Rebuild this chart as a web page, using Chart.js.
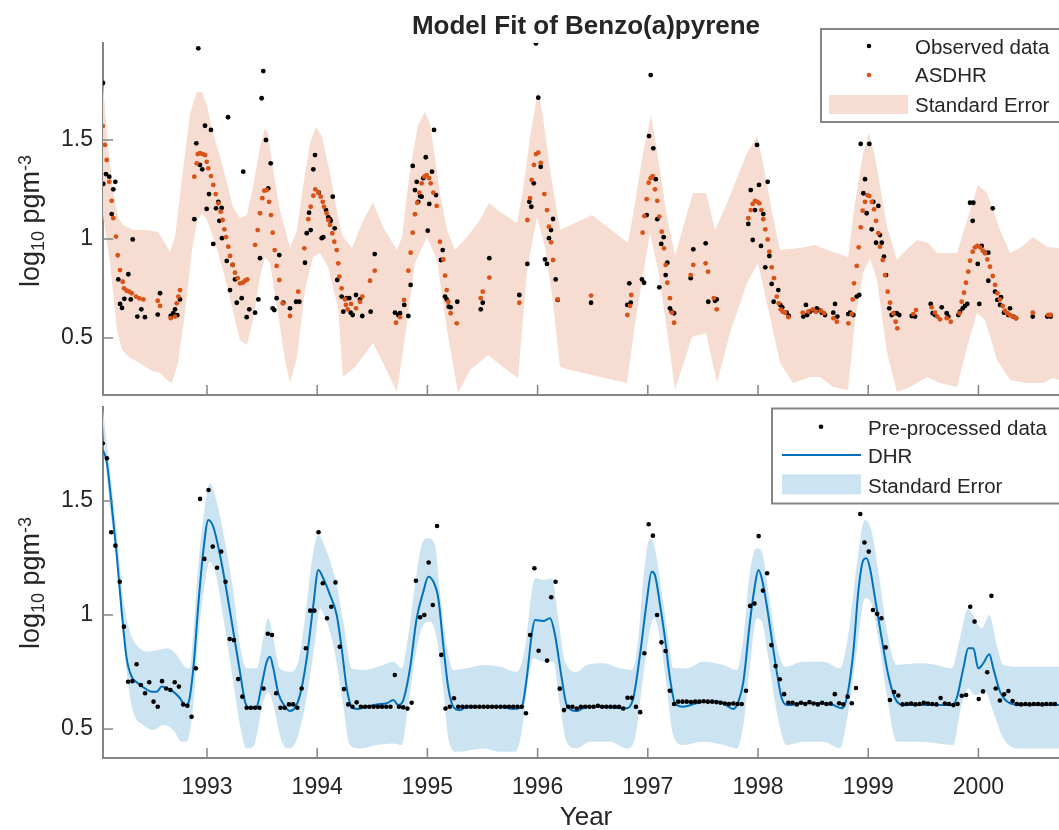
<!DOCTYPE html>
<html><head><meta charset="utf-8">
<script src="https://cdn.jsdelivr.net/npm/chart.js@4"></script>
<style>
html,body{margin:0;padding:0;background:#fff;overflow:hidden;width:1059px;height:830px;}
#topC{position:absolute;left:0;top:0;}
#botC{position:absolute;left:0;top:400px;}
</style></head><body>
<canvas id="topC" width="1069" height="400"></canvas>
<canvas id="botC" width="1069" height="430"></canvas>
<script>
// ---------------- DATA ----------------
const titleText = 'Model Fit of Benzo(a)pyrene';
const xTicks = [1993,1994,1995,1996,1997,1998,1999,2000];
const yTicks = [0.5,1,1.5];

// Top panel: observed data [year, log10 pgm-3]
const observed = [
[1992.056,1.788],[1992.083,1.328],[1992.059,1.278],[1992.113,1.315],[1992.168,1.289],[1992.150,1.251],[1992.135,1.126],[1992.195,0.796],[1992.211,0.672],[1992.229,0.652],[1992.250,0.698],[1992.286,0.822],[1992.308,0.695],[1992.326,0.998],[1992.368,0.608],[1992.404,0.645],[1992.437,0.605],[1992.553,0.618],[1992.574,0.726],[1992.671,0.611],[1992.694,0.625],[1992.710,0.645],[1992.730,0.615],[1992.755,0.695],
[1992.885,1.100],[1992.903,1.483],[1992.921,1.963],[1992.936,1.374],[1992.957,1.352],[1992.982,1.572],[1992.997,1.152],[1993.018,1.227],[1993.036,1.551],[1993.057,0.975],[1993.082,1.155],[1993.103,1.188],[1993.112,1.092],[1993.133,1.157],[1993.136,1.004],[1993.179,0.889],[1993.191,1.615],[1993.209,0.742],[1993.233,0.869],[1993.254,0.796],[1993.270,0.678],[1993.315,0.701],[1993.329,1.340],[1993.360,0.605],[1993.384,0.645],[1993.436,0.628],[1993.466,0.695],[1993.481,0.903],[1993.496,1.711],[1993.511,1.848],[1993.535,1.500],[1993.556,1.256],[1993.578,1.382],[1993.596,0.650],[1993.611,0.641],[1993.632,0.701],[1993.656,0.919],[1993.692,0.678],[1993.753,0.650],[1993.808,0.683],[1993.838,0.683],
[1993.889,0.880],[1993.905,1.029],[1993.926,1.133],[1993.941,1.045],[1993.965,1.352],[1993.980,1.424],[1994.014,1.234],[1994.041,1.004],[1994.055,1.009],[1994.080,1.146],[1994.101,1.110],[1994.116,1.100],[1994.123,1.092],[1994.141,1.214],[1994.159,1.054],[1994.182,0.793],[1994.222,0.709],[1994.237,0.633],[1994.268,0.701],[1994.291,0.701],[1994.304,0.628],[1994.322,0.616],[1994.352,0.717],[1994.388,0.695],[1994.409,0.611],[1994.485,0.633],[1994.522,0.924],
[1994.706,0.628],[1994.736,0.616],[1994.751,0.625],[1994.790,0.667],[1994.827,0.611],[1994.848,0.768],[1994.867,1.369],[1994.887,1.247],[1994.903,1.289],[1994.917,1.188],[1994.933,1.217],[1994.948,1.214],[1994.963,1.307],[1994.985,1.413],[1995.003,1.042],[1995.017,1.177],[1995.042,1.340],[1995.060,1.551],[1995.078,1.222],[1995.123,0.894],[1995.139,0.944],[1995.160,0.709],[1995.175,0.695],[1995.193,0.658],[1995.211,0.655],[1995.271,0.683],[1995.484,0.645],[1995.502,0.678],[1995.562,0.903],
[1995.834,0.717],[1995.907,0.874],[1995.925,1.188],[1995.943,1.163],[1995.965,1.281],[1995.985,1.988],[1996.006,1.714],[1996.028,1.365],[1996.067,0.897],[1996.085,0.874],[1996.103,1.004],[1996.122,1.045],[1996.140,1.101],[1996.164,0.796],[1996.182,0.692],[1996.485,0.678],
[1996.814,0.667],[1996.832,0.776],[1996.845,0.678],[1996.947,0.796],[1996.966,0.779],[1996.990,1.121],[1997.011,1.520],[1997.026,1.828],[1997.050,1.458],[1997.072,1.302],[1997.086,1.100],[1997.104,0.756],[1997.122,0.975],[1997.144,1.009],[1997.162,0.818],[1997.177,0.880],[1997.201,0.650],[1997.217,0.633],[1997.238,0.625],[1997.389,0.802],[1997.413,0.948],[1997.525,0.978],[1997.549,0.683],[1997.610,0.688],[1997.625,0.695],
[1997.912,1.076],[1997.934,1.247],[1997.952,0.995],[1997.973,1.146],[1997.991,1.475],[1998.009,1.273],[1998.027,0.965],[1998.048,1.126],[1998.066,0.857],[1998.088,1.289],[1998.103,0.914],[1998.124,0.773],[1998.142,0.683],[1998.184,0.742],[1998.202,0.667],[1998.220,0.655],[1998.260,0.628],[1998.279,0.611],[1998.411,0.608],[1998.435,0.667],[1998.447,0.616],[1998.472,0.633],[1998.502,0.641],[1998.533,0.650],[1998.556,0.641],[1998.578,0.628],[1998.608,0.616],[1998.683,0.628],[1998.699,0.672],[1998.720,0.608],[1998.819,0.621],[1998.835,0.628],[1998.865,0.616],[1998.896,0.709],[1998.919,0.717],
[1998.932,1.480],[1999.010,1.480],[1998.971,1.302],[1998.956,1.231],[1998.986,1.130],[1999.032,1.049],[1999.046,1.188],[1999.071,0.981],[1999.092,1.167],[1999.107,1.020],[1999.123,0.981],[1999.143,0.911],[1999.162,0.818],[1999.191,0.650],[1999.213,0.616],[1999.234,0.625],[1999.258,0.625],[1999.282,0.616],[1999.395,0.611],[1999.425,0.608],[1999.567,0.672],[1999.585,0.625],[1999.606,0.616],[1999.667,0.655],[1999.712,0.625],[1999.727,0.608],[1999.818,0.616],[1999.833,0.633],[1999.858,0.650],[1999.878,0.662],[1999.899,0.672],
[1999.924,1.183],[1999.954,1.183],[1999.948,1.092],[2000.008,0.672],[1999.994,0.874],[2000.030,0.965],[2000.060,0.931],[2000.090,0.931],[2000.130,1.155],[2000.090,0.789],[2000.151,0.734],[2000.172,0.692],[2000.196,0.667],[2000.205,0.706],[2000.232,0.628],[2000.271,0.616],[2000.287,0.650],[2000.317,0.608],[2000.341,0.600],[2000.493,0.608],[2000.625,0.608],[2000.656,0.608]
];

// Top panel: ASDHR fit
const asdhr = [
[1992.054,1.571],[1992.074,1.475],[1992.090,1.399],[1992.113,1.289],[1992.135,1.193],[1992.150,1.105],[1992.174,1.012],[1992.190,0.918],[1992.211,0.843],[1992.235,0.784],[1992.247,0.751],[1992.271,0.739],[1992.295,0.734],[1992.317,0.726],[1992.356,0.709],[1992.386,0.700],[1992.422,0.695],[1992.553,0.688],[1992.574,0.662],[1992.671,0.600],[1992.710,0.608],[1992.725,0.675],[1992.740,0.709],[1992.755,0.742],
[1992.885,1.315],[1992.907,1.382],[1992.916,1.429],[1992.936,1.433],[1992.961,1.429],[1992.982,1.424],[1992.997,1.390],[1993.012,1.357],[1993.036,1.318],[1993.057,1.273],[1993.079,1.227],[1993.103,1.180],[1993.124,1.138],[1993.142,1.096],[1993.157,1.049],[1993.172,1.009],[1993.193,0.961],[1993.209,0.914],[1993.233,0.869],[1993.254,0.830],[1993.279,0.802],[1993.299,0.776],[1993.324,0.779],[1993.345,0.789],[1993.366,0.796],
[1993.436,0.970],[1993.460,1.045],[1993.481,1.130],[1993.502,1.206],[1993.520,1.244],[1993.542,1.247],[1993.563,1.188],[1993.581,1.121],[1993.596,1.032],[1993.614,0.944],[1993.632,0.864],[1993.656,0.793],[1993.687,0.675],[1993.753,0.611],[1993.828,0.734],
[1993.883,0.953],[1993.919,1.100],[1993.941,1.163],[1993.965,1.219],[1993.983,1.251],[1994.010,1.234],[1994.032,1.214],[1994.050,1.188],[1994.062,1.163],[1994.086,1.130],[1994.101,1.096],[1994.116,1.071],[1994.137,1.029],[1994.155,0.986],[1994.177,0.944],[1994.191,0.877],[1994.201,0.810],[1994.222,0.751],[1994.252,0.695],[1994.261,0.667],[1994.277,0.645],[1994.307,0.672],[1994.352,0.650],[1994.388,0.683],[1994.409,0.709],[1994.479,0.789],[1994.522,0.840],
[1994.715,0.577],[1994.751,0.605],[1994.788,0.692],[1994.827,0.840],[1994.848,0.931],[1994.867,1.032],[1994.887,1.125],[1994.908,1.183],[1994.927,1.234],[1994.948,1.281],[1994.972,1.315],[1994.994,1.323],[1995.015,1.307],[1995.030,1.281],[1995.054,1.234],[1995.084,1.167],[1995.114,0.986],[1995.144,0.897],[1995.160,0.815],[1995.175,0.742],[1995.190,0.683],[1995.211,0.625],[1995.266,0.574],[1995.484,0.701],[1995.502,0.734],[1995.562,0.805],
[1995.834,0.678],[1995.907,1.096],[1995.931,1.206],[1995.946,1.298],[1995.967,1.374],[1995.985,1.429],[1996.006,1.436],[1996.028,1.385],[1996.061,1.227],[1996.085,1.146],[1996.103,1.062],[1996.122,0.983],[1996.140,0.894],[1996.182,0.695],[1996.485,0.714],
[1996.814,0.616],[1996.838,0.662],[1996.850,0.717],[1996.953,1.032],[1996.968,1.116],[1996.990,1.201],[1997.008,1.284],[1997.026,1.307],[1997.044,1.318],[1997.065,1.251],[1997.086,1.193],[1997.104,1.113],[1997.126,1.037],[1997.147,0.953],[1997.162,0.869],[1997.177,0.779],[1997.201,0.701],[1997.220,0.628],[1997.238,0.577],[1997.389,0.818],[1997.413,0.869],[1997.525,0.877],[1997.546,0.835],[1997.600,0.701],[1997.625,0.645],
[1997.912,1.105],[1997.934,1.146],[1997.952,1.177],[1997.973,1.193],[1997.994,1.188],[1998.012,1.180],[1998.030,1.146],[1998.048,1.100],[1998.066,1.049],[1998.088,0.998],[1998.103,0.936],[1998.124,0.857],[1998.145,0.802],[1998.170,0.709],[1998.188,0.675],[1998.206,0.645],[1998.224,0.633],[1998.245,0.628],[1998.275,0.605],[1998.406,0.628],[1998.457,0.633],[1998.497,0.645],[1998.527,0.633],[1998.570,0.638],[1998.600,0.625],[1998.684,0.600],[1998.715,0.582],[1998.820,0.574],
[1998.850,0.621],[1998.859,0.695],[1998.871,0.776],[1998.896,0.864],[1998.914,0.958],[1998.932,1.059],[1998.950,1.143],[1998.971,1.188],[1998.992,1.222],[1999.010,1.217],[1999.032,1.188],[1999.053,1.150],[1999.071,1.092],[1999.092,1.029],[1999.107,0.961],[1999.132,0.894],[1999.153,0.818],[1999.177,0.734],[1999.198,0.678],[1999.228,0.625],[1999.249,0.582],[1999.264,0.549],[1999.409,0.621],[1999.434,0.641],[1999.576,0.655],[1999.606,0.628],[1999.627,0.608],[1999.652,0.594],[1999.712,0.600],[1999.749,0.582],
[1999.827,0.625],[1999.848,0.683],[1999.869,0.729],[1999.887,0.779],[1999.908,0.835],[1999.924,0.890],[1999.948,0.936],[1999.969,0.958],[1999.990,0.965],[2000.015,0.958],[2000.039,0.941],[2000.060,0.928],[2000.081,0.897],[2000.105,0.860],[2000.130,0.813],[2000.151,0.768],[2000.172,0.726],[2000.196,0.695],[2000.220,0.662],[2000.241,0.638],[2000.262,0.625],[2000.287,0.616],[2000.311,0.608],[2000.341,0.600],[2000.493,0.628],[2000.634,0.616],[2000.656,0.616]
];

// Top panel: standard error band (upper / lower edge)
const asdhrUpper = [
[1992.056,1.788],[1992.102,1.465],[1992.147,1.247],[1992.192,1.111],[1992.238,1.071],[1992.328,1.045],[1992.456,1.045],[1992.555,1.035],[1992.601,0.995],[1992.664,0.934],[1992.710,1.010],[1992.782,1.348],[1992.846,1.636],[1992.909,1.742],[1992.955,1.742],[1993.000,1.677],[1993.054,1.535],[1993.118,1.414],[1993.181,1.283],[1993.236,1.162],[1993.299,1.106],[1993.363,1.121],[1993.417,1.263],[1993.481,1.465],[1993.526,1.561],[1993.554,1.535],[1993.599,1.348],[1993.662,1.146],[1993.753,0.955],[1993.817,1.045],[1993.871,1.263],[1993.935,1.485],[1993.989,1.566],[1994.044,1.515],[1994.116,1.333],[1994.189,1.111],[1994.234,1.010],[1994.316,0.955],[1994.407,1.081],[1994.506,1.187],[1994.597,1.061],[1994.724,0.944],[1994.769,1.010],[1994.842,1.348],[1994.915,1.576],[1994.978,1.641],[1995.024,1.586],[1995.114,1.232],[1995.178,1.045],[1995.250,0.944],[1995.359,1.010],[1995.477,1.096],[1995.559,1.182],[1995.659,1.136],[1995.813,1.081],[1995.868,1.247],[1995.931,1.515],[1996.004,1.753],[1996.049,1.616],[1996.113,1.348],[1996.203,1.045],[1996.494,1.121],[1996.820,0.980],[1996.884,1.182],[1996.956,1.434],[1997.029,1.626],[1997.083,1.449],[1997.174,1.111],[1997.247,0.919],[1997.410,1.232],[1997.528,1.232],[1997.610,1.045],[1997.719,1.182],[1997.900,1.434],[1997.991,1.520],[1998.045,1.384],[1998.136,1.111],[1998.200,0.944],[1998.381,0.955],[1998.517,0.970],[1998.681,0.934],[1998.817,0.909],[1998.880,1.182],[1998.953,1.434],[1999.007,1.535],[1999.062,1.414],[1999.171,1.061],[1999.261,0.894],[1999.316,0.929],[1999.443,0.995],[1999.543,0.980],[1999.624,0.929],[1999.806,0.929],[1999.897,1.096],[1999.996,1.273],[2000.078,1.232],[2000.196,1.045],[2000.287,0.929],[2000.378,0.955],[2000.495,1.010],[2000.622,0.960],[2000.731,0.955]
];
const asdhrLower = [
[1992.056,1.121],[1992.120,0.879],[1992.183,0.540],[1992.229,0.439],[1992.301,0.399],[1992.392,0.374],[1992.483,0.338],[1992.574,0.323],[1992.637,0.288],[1992.682,0.273],[1992.737,0.374],[1992.800,0.626],[1992.864,0.944],[1992.909,1.086],[1992.955,1.131],[1993.000,1.096],[1993.073,0.980],[1993.145,0.843],[1993.227,0.657],[1993.299,0.490],[1993.363,0.465],[1993.417,0.591],[1993.481,0.808],[1993.526,0.909],[1993.572,0.879],[1993.635,0.657],[1993.708,0.389],[1993.753,0.273],[1993.817,0.404],[1993.889,0.742],[1993.962,0.909],[1994.025,0.929],[1994.098,0.859],[1994.189,0.657],[1994.234,0.303],[1994.343,0.354],[1994.506,0.475],[1994.615,0.354],[1994.724,0.227],[1994.815,0.576],[1994.887,0.879],[1994.996,1.010],[1995.087,0.894],[1995.178,0.540],[1995.278,0.222],[1995.387,0.338],[1995.550,0.414],[1995.686,0.354],[1995.822,0.298],[1995.904,0.843],[1995.995,1.111],[1996.067,0.960],[1996.140,0.677],[1996.203,0.354],[1996.294,0.338],[1996.811,0.273],[1996.884,0.576],[1997.020,1.030],[1997.093,0.843],[1997.174,0.540],[1997.247,0.237],[1997.401,0.505],[1997.528,0.525],[1997.628,0.273],[1997.746,0.525],[1997.900,0.778],[1998.000,0.879],[1998.109,0.606],[1998.200,0.374],[1998.318,0.273],[1998.472,0.303],[1998.563,0.303],[1998.681,0.253],[1998.817,0.237],[1998.880,0.591],[1998.953,0.828],[1999.016,0.904],[1999.080,0.793],[1999.171,0.424],[1999.261,0.227],[1999.379,0.253],[1999.534,0.303],[1999.652,0.273],[1999.806,0.253],[1999.897,0.455],[1999.987,0.626],[2000.060,0.591],[2000.169,0.389],[2000.287,0.288],[2000.441,0.273],[2000.586,0.273],[2000.677,0.298],[2000.731,0.288]
];

// Bottom panel: pre-processed data (fortnightly)
const preYear = [
1992.054,1992.092,1992.131,1992.169,1992.208,1992.246,1992.284,1992.323,1992.361,1992.400,1992.438,1992.476,1992.515,1992.553,1992.592,1992.630,1992.668,1992.707,1992.745,1992.784,1992.822,1992.860,1992.899,1992.937,1992.976,1993.014,
1993.052,1993.091,1993.129,1993.168,1993.206,1993.244,1993.283,1993.321,1993.360,1993.398,1993.436,1993.475,1993.513,1993.552,1993.590,1993.628,1993.667,1993.705,1993.744,1993.782,1993.820,1993.859,1993.897,1993.936,1993.974,1994.012,
1994.051,1994.089,1994.128,1994.166,1994.204,1994.243,1994.281,1994.320,1994.358,1994.396,1994.435,1994.473,1994.512,1994.550,1994.588,1994.627,1994.665,1994.704,1994.742,1994.780,1994.819,1994.857,1994.896,1994.934,1994.972,1995.011,
1995.049,1995.088,1995.126,1995.164,1995.203,1995.241,1995.280,1995.318,1995.356,1995.395,1995.433,1995.472,1995.510,1995.548,1995.587,1995.625,1995.664,1995.702,1995.740,1995.779,1995.817,1995.856,1995.894,1995.932,1995.971,1996.009,
1996.048,1996.086,1996.124,1996.163,1996.201,1996.240,1996.278,1996.316,1996.355,1996.393,1996.432,1996.470,1996.508,1996.547,1996.585,1996.624,1996.662,1996.700,1996.739,1996.777,1996.816,1996.854,1996.892,1996.931,1996.969,1997.008,
1997.046,1997.084,1997.123,1997.161,1997.200,1997.238,1997.276,1997.315,1997.353,1997.392,1997.430,1997.468,1997.507,1997.545,1997.584,1997.622,1997.660,1997.699,1997.737,1997.776,1997.814,1997.852,1997.891,1997.929,1997.968,1998.006,
1998.045,1998.083,1998.121,1998.160,1998.198,1998.237,1998.275,1998.313,1998.352,1998.390,1998.429,1998.467,1998.505,1998.544,1998.582,1998.621,1998.659,1998.697,1998.736,1998.774,1998.813,1998.851,1998.889,1998.928,1998.966,1999.005,
1999.043,1999.081,1999.120,1999.158,1999.197,1999.235,1999.273,1999.312,1999.350,1999.389,1999.427,1999.465,1999.504,1999.542,1999.581,1999.619,1999.657,1999.696,1999.734,1999.773,1999.811,1999.849,1999.888,1999.926,1999.965,2000.003,
2000.042,2000.080,2000.118,2000.157,2000.195,2000.234,2000.272,2000.310,2000.349,2000.387,2000.426,2000.464,2000.502,2000.541,2000.579,2000.617,2000.656,2000.694
];
const preVal = [
1.753,1.687,1.363,1.304,1.146,0.949,0.707,0.710,0.784,0.693,0.657,0.705,0.620,0.598,0.710,0.678,0.671,0.705,0.686,0.608,0.602,0.554,0.766,1.509,1.246,1.548,
1.300,1.207,1.278,1.146,0.895,0.890,0.719,0.642,0.593,0.593,0.593,0.593,0.678,0.918,0.912,0.657,0.593,0.593,0.608,0.608,0.593,0.678,0.854,1.019,1.019,1.363,
1.139,0.986,1.036,1.143,0.861,0.675,0.608,0.598,0.617,0.598,0.598,0.598,0.598,0.598,0.598,0.598,0.598,0.737,0.598,0.595,0.590,0.615,1.150,0.990,1.000,1.230,
1.044,1.390,0.825,0.590,0.598,0.635,0.598,0.598,0.598,0.598,0.598,0.598,0.598,0.598,0.598,0.598,0.598,0.598,0.598,0.598,0.598,0.598,0.569,0.912,1.205,0.843,
null,0.800,1.078,1.146,0.677,0.583,0.598,0.598,0.590,0.598,0.598,0.598,0.598,0.602,0.598,0.598,0.598,0.598,0.598,0.590,0.637,0.637,0.598,0.574,0.832,1.398,
1.348,1.000,0.880,0.842,0.668,0.610,0.620,0.620,0.620,0.618,0.620,0.620,0.622,0.620,0.620,0.618,0.615,0.612,0.610,0.612,0.610,0.610,0.668,1.040,1.050,1.346,
1.107,1.183,0.868,0.776,0.718,0.653,0.615,0.615,0.608,0.615,0.610,0.618,0.612,0.608,0.615,0.610,0.612,0.653,0.613,0.608,0.642,0.613,0.680,1.443,1.318,1.278,
1.022,1.005,0.986,0.858,0.627,0.662,0.647,0.608,0.610,0.612,0.608,0.610,0.615,0.612,0.610,0.608,0.636,0.612,0.610,0.605,0.610,0.646,0.649,1.036,0.971,0.632,
0.665,0.749,1.084,0.678,0.625,0.652,0.667,0.623,0.610,0.608,0.610,0.608,0.610,0.610,0.608,0.610,0.610,0.610
];

// Bottom panel: DHR fit and its standard error band
const dhr = [
[1992.056,1.724],[1992.090,1.672],[1992.135,1.482],[1992.181,1.263],[1992.226,1.014],[1992.271,0.810],[1992.317,0.729],[1992.377,0.700],[1992.437,0.678],[1992.498,0.664],[1992.544,0.664],[1992.589,0.686],[1992.634,0.678],[1992.694,0.664],[1992.755,0.635],[1992.800,0.605],[1992.830,0.613],[1992.876,0.766],[1992.921,1.044],[1992.966,1.278],[1993.012,1.417],[1993.057,1.387],[1993.118,1.263],[1993.179,1.102],[1993.239,0.927],[1993.299,0.751],[1993.345,0.620],[1993.390,0.591],[1993.451,0.598],[1993.496,0.693],[1993.542,0.795],[1993.572,0.817],[1993.602,0.766],[1993.647,0.657],[1993.708,0.598],[1993.753,0.579],[1993.799,0.593],[1993.844,0.649],[1993.905,0.810],[1993.965,1.044],[1994.010,1.197],[1994.055,1.161],[1994.116,1.088],[1994.177,1.000],[1994.222,0.854],[1994.268,0.679],[1994.313,0.598],[1994.373,0.588],[1994.449,0.598],[1994.540,0.608],[1994.631,0.613],[1994.691,0.627],[1994.736,0.605],[1994.781,0.627],[1994.842,0.766],[1994.903,0.986],[1994.963,1.102],[1995.008,1.168],[1995.054,1.146],[1995.099,1.073],[1995.144,0.868],[1995.190,0.679],[1995.235,0.598],[1995.296,0.583],[1995.357,0.598],[1995.659,0.598],[1995.779,0.588],[1995.856,0.598],[1995.901,0.722],[1995.946,0.912],[1995.976,0.978],[1996.052,0.974],[1996.113,0.986],[1996.158,0.912],[1996.219,0.722],[1996.264,0.605],[1996.355,0.579],[1996.446,0.598],[1996.596,0.598],[1996.748,0.591],[1996.808,0.591],[1996.868,0.635],[1996.929,0.825],[1996.990,1.058],[1997.035,1.190],[1997.065,1.175],[1997.111,1.044],[1997.156,0.898],[1997.201,0.722],[1997.247,0.613],[1997.322,0.598],[1997.504,0.620],[1997.655,0.620],[1997.731,0.598],[1997.776,0.588],[1997.822,0.620],[1997.867,0.707],[1997.927,0.971],[1997.973,1.132],[1998.003,1.197],[1998.034,1.161],[1998.079,1.044],[1998.124,0.898],[1998.170,0.751],[1998.215,0.635],[1998.275,0.605],[1998.411,0.613],[1998.563,0.613],[1998.683,0.605],[1998.759,0.591],[1998.805,0.635],[1998.865,0.839],[1998.910,1.102],[1998.956,1.241],[1998.986,1.249],[1999.016,1.205],[1999.062,1.073],[1999.122,0.898],[1999.182,0.737],[1999.243,0.635],[1999.319,0.605],[1999.470,0.605],[1999.622,0.605],[1999.758,0.605],[1999.803,0.635],[1999.863,0.766],[1999.908,0.854],[1999.954,0.854],[1999.999,0.766],[2000.044,0.788],[2000.099,0.828],[2000.135,0.766],[2000.196,0.664],[2000.287,0.613],[2000.407,0.605],[2000.731,0.605]
];
const dhrUpper = [
[1992.056,1.899],[1992.120,1.629],[1992.181,1.365],[1992.240,1.073],[1992.301,0.927],[1992.362,0.868],[1992.453,0.839],[1992.558,0.846],[1992.634,0.854],[1992.725,0.825],[1992.800,0.773],[1992.846,0.766],[1992.876,0.927],[1992.921,1.219],[1992.982,1.482],[1993.027,1.578],[1993.088,1.497],[1993.163,1.321],[1993.239,1.102],[1993.299,0.868],[1993.360,0.766],[1993.451,0.766],[1993.511,0.898],[1993.556,0.986],[1993.602,0.898],[1993.662,0.766],[1993.753,0.751],[1993.828,0.795],[1993.889,0.986],[1993.965,1.278],[1994.010,1.351],[1994.086,1.278],[1994.177,1.132],[1994.237,0.971],[1994.313,0.766],[1994.418,0.759],[1994.600,0.781],[1994.691,0.795],[1994.767,0.766],[1994.827,0.912],[1994.887,1.132],[1994.948,1.307],[1995.008,1.336],[1995.069,1.307],[1995.114,1.102],[1995.175,0.868],[1995.235,0.759],[1995.357,0.766],[1995.507,0.781],[1995.659,0.773],[1995.810,0.751],[1995.886,0.854],[1995.946,1.102],[1995.976,1.161],[1996.052,1.154],[1996.128,1.161],[1996.188,0.986],[1996.249,0.795],[1996.355,0.751],[1996.446,0.781],[1996.596,0.788],[1996.748,0.766],[1996.854,0.759],[1996.914,0.898],[1996.959,1.161],[1997.020,1.336],[1997.065,1.293],[1997.126,1.102],[1997.186,0.898],[1997.232,0.766],[1997.353,0.766],[1997.504,0.795],[1997.686,0.781],[1997.807,0.759],[1997.867,0.898],[1997.927,1.190],[1997.988,1.293],[1998.034,1.278],[1998.094,1.102],[1998.170,0.868],[1998.245,0.773],[1998.411,0.795],[1998.593,0.795],[1998.744,0.766],[1998.819,0.912],[1998.896,1.219],[1998.971,1.417],[1999.032,1.365],[1999.092,1.190],[1999.182,0.898],[1999.259,0.781],[1999.470,0.788],[1999.622,0.781],[1999.758,0.766],[1999.833,0.898],[1999.908,1.029],[1999.969,0.986],[2000.030,0.942],[2000.099,1.000],[2000.166,0.868],[2000.226,0.781],[2000.378,0.773],[2000.731,0.773]
];
const dhrLower = [
[1992.056,1.833],[1992.104,1.541],[1992.165,1.293],[1992.226,1.029],[1992.271,0.751],[1992.331,0.576],[1992.422,0.518],[1992.513,0.496],[1992.603,0.518],[1992.694,0.496],[1992.770,0.444],[1992.816,0.444],[1992.876,0.605],[1992.921,0.898],[1992.982,1.146],[1993.027,1.234],[1993.088,1.161],[1993.148,0.986],[1993.224,0.751],[1993.299,0.518],[1993.360,0.415],[1993.420,0.422],[1993.511,0.620],[1993.556,0.664],[1993.602,0.605],[1993.678,0.444],[1993.753,0.415],[1993.828,0.474],[1993.919,0.679],[1993.980,0.883],[1994.025,1.029],[1994.086,0.971],[1994.146,0.868],[1994.222,0.649],[1994.298,0.430],[1994.388,0.415],[1994.540,0.430],[1994.691,0.437],[1994.767,0.430],[1994.827,0.605],[1994.887,0.810],[1994.963,0.956],[1995.024,0.971],[1995.084,0.898],[1995.144,0.679],[1995.190,0.459],[1995.266,0.400],[1995.507,0.415],[1995.659,0.400],[1995.795,0.400],[1995.856,0.488],[1995.916,0.722],[1995.961,0.810],[1996.052,0.795],[1996.142,0.795],[1996.203,0.605],[1996.264,0.444],[1996.355,0.415],[1996.475,0.444],[1996.657,0.444],[1996.808,0.415],[1996.884,0.459],[1996.945,0.679],[1997.005,0.898],[1997.056,0.986],[1997.111,0.898],[1997.172,0.679],[1997.231,0.474],[1997.322,0.430],[1997.504,0.444],[1997.686,0.430],[1997.807,0.415],[1997.867,0.518],[1997.927,0.781],[1997.988,0.986],[1998.034,0.971],[1998.094,0.810],[1998.170,0.576],[1998.260,0.430],[1998.411,0.444],[1998.593,0.444],[1998.744,0.415],[1998.819,0.576],[1998.896,0.839],[1998.971,1.073],[1999.032,1.044],[1999.092,0.898],[1999.168,0.649],[1999.259,0.444],[1999.470,0.444],[1999.772,0.430],[1999.833,0.576],[1999.908,0.679],[1999.969,0.649],[2000.060,0.664],[2000.135,0.576],[2000.226,0.459],[2000.378,0.415],[2000.731,0.415]
];

// ---------------- STYLE / LAYOUT ----------------
const FONT = "'Liberation Sans', Arial, Helvetica, sans-serif";
const AX = '#858585';
const TXT = '#262626';
const ORANGE = 'rgb(217,83,25)';
const PINK = 'rgb(247,221,209)';
const BLUE = 'rgb(0,114,189)';
const LBLUE = 'rgb(204,227,241)';
const X_MIN = 1992.0563, X_MAX = 2000.822;

Chart.defaults.font.family = FONT;
Chart.defaults.color = TXT;

const pts = a => a.map(p => ({x: p[0], y: p[1]}));

function yAxis(min, max) {
  return {
    type: 'linear', position: 'left', min, max,
    afterFit: s => { s.width = 103; s.paddingTop = 0; s.paddingBottom = 0; },
    afterBuildTicks: s => { s.ticks = yTicks.map(v => ({value: v})); },
    grid: {display: false, drawTicks: false},
    border: {display: true, color: AX, width: 2},
    ticks: {font: {size: 23}, color: TXT, padding: 10, callback: v => String(v)}
  };
}
function xAxis(labels) {
  return {
    type: 'linear', position: 'bottom', min: X_MIN, max: X_MAX,
    afterFit: s => { s.height = labels ? 72 : 5; s.paddingLeft = 0; s.paddingRight = 0; },
    afterBuildTicks: s => { s.ticks = xTicks.map(v => ({value: v})); },
    grid: {display: false, drawTicks: false},
    border: {display: true, color: AX, width: 2},
    ticks: {display: labels, font: {size: 23}, color: TXT, padding: 16, maxRotation: 0, autoSkip: false, callback: v => String(v)},
    title: labels ? {display: true, text: 'Year', font: {size: 26}, color: TXT, padding: {top: 0, bottom: -3}} : {display: false}
  };
}

function drawTicks(chart) {
  const ctx = chart.ctx, a = chart.chartArea, xs = chart.scales.x, ys = chart.scales.y;
  ctx.save();
  ctx.strokeStyle = AX; ctx.lineWidth = 1.5;
  yTicks.forEach(v => { const y = ys.getPixelForValue(v); ctx.beginPath(); ctx.moveTo(a.left, y); ctx.lineTo(a.left + 10, y); ctx.stroke(); });
  xTicks.forEach(v => { const x = xs.getPixelForValue(v); ctx.beginPath(); ctx.moveTo(x, a.bottom); ctx.lineTo(x, a.bottom - 10); ctx.stroke(); });
  ctx.restore();
}
function drawYLabel(ctx, cy) {
  const big = '27px ' + FONT, small = '18px ' + FONT;
  const parts = [['log', big, 0], ['10', small, 5], [' pgm', big, 0], ['-3', small, -8]];
  ctx.save();
  let total = 0;
  parts.forEach(p => { ctx.font = p[1]; total += ctx.measureText(p[0]).width; });
  ctx.translate(39, cy); ctx.rotate(-Math.PI / 2);
  ctx.fillStyle = TXT; ctx.textAlign = 'left'; ctx.textBaseline = 'alphabetic';
  let x = -total / 2;
  parts.forEach(p => { ctx.font = p[1]; ctx.fillText(p[0], x, p[2]); x += ctx.measureText(p[0]).width; });
  ctx.restore();
}
function dot(ctx, x, y, r, c) { ctx.fillStyle = c; ctx.beginPath(); ctx.arc(x, y, r, 0, Math.PI * 2); ctx.fill(); }

const topDecor = {
  id: 'topDecor',
  afterDraw(chart) {
    const ctx = chart.ctx;
    drawTicks(chart);
    ctx.save();
    ctx.fillStyle = TXT; ctx.font = 'bold 26px ' + FONT; ctx.textAlign = 'center'; ctx.textBaseline = 'alphabetic';
    ctx.fillText(titleText, 586, 33.5);
    ctx.restore();
    drawYLabel(ctx, 221);
    // legend
    ctx.save();
    ctx.fillStyle = '#fff'; ctx.fillRect(821, 29, 270, 93);
    ctx.strokeStyle = AX; ctx.lineWidth = 2; ctx.strokeRect(821, 29, 270, 93);
    dot(ctx, 869, 46, 2.3, '#000');
    dot(ctx, 869, 75, 2.3, ORANGE);
    ctx.fillStyle = PINK; ctx.fillRect(829, 95, 79, 19);
    ctx.fillStyle = TXT; ctx.font = '20.5px ' + FONT; ctx.textAlign = 'left'; ctx.textBaseline = 'alphabetic';
    ctx.fillText('Observed data', 915, 53.5);
    ctx.fillText('ASDHR', 915, 82);
    ctx.fillText('Standard Error', 915, 111.5);
    ctx.restore();
  }
};
const botDecor = {
  id: 'botDecor',
  afterDraw(chart) {
    const ctx = chart.ctx;
    drawTicks(chart);
    drawYLabel(ctx, 183);
    ctx.save();
    ctx.fillStyle = '#fff'; ctx.fillRect(772, 8.5, 320, 95);
    ctx.strokeStyle = AX; ctx.lineWidth = 2; ctx.strokeRect(772, 8.5, 320, 95);
    dot(ctx, 821, 26.7, 2.3, '#000');
    ctx.strokeStyle = BLUE; ctx.lineWidth = 2; ctx.beginPath(); ctx.moveTo(782, 55); ctx.lineTo(861, 55); ctx.stroke();
    ctx.fillStyle = LBLUE; ctx.fillRect(782, 74.3, 79, 20);
    ctx.fillStyle = TXT; ctx.font = '20.5px ' + FONT; ctx.textAlign = 'left'; ctx.textBaseline = 'alphabetic';
    ctx.fillText('Pre-processed data', 868, 34.5);
    ctx.fillText('DHR', 868, 62.5);
    ctx.fillText('Standard Error', 868, 92.5);
    ctx.restore();
  }
};

const common = {
  responsive: false, animation: false, events: [],
  plugins: {legend: {display: false}, tooltip: {enabled: false}, title: {display: false}},
};

new Chart(document.getElementById('topC'), {
  type: 'line',
  data: {datasets: [
    {data: pts(asdhr), showLine: false, pointRadius: 2.4, pointBorderWidth: 0, pointBackgroundColor: ORANGE, borderColor: ORANGE},
    {data: pts(observed), showLine: false, pointRadius: 2.4, pointBorderWidth: 0, pointBackgroundColor: '#000', borderColor: '#000'},
    {data: pts(asdhrUpper), borderColor: 'rgba(0,0,0,0)', borderWidth: 0, pointRadius: 0, backgroundColor: PINK, fill: '+1', tension: 0},
    {data: pts(asdhrLower), borderColor: 'rgba(0,0,0,0)', borderWidth: 0, pointRadius: 0, fill: false, tension: 0}
  ]},
  options: Object.assign({}, common, {
    layout: {autoPadding: false, padding: {top: 43, left: 0, right: 0, bottom: 0}},
    scales: {x: xAxis(false), y: yAxis(0.212, 1.990)}
  }),
  plugins: [topDecor]
});

new Chart(document.getElementById('botC'), {
  type: 'line',
  data: {datasets: [
    {data: preYear.map((y, i) => ({x: y, y: preVal[i]})), showLine: false, pointRadius: 2.3, pointBorderWidth: 0, pointBackgroundColor: '#000', borderColor: '#000'},
    {data: pts(dhr), borderColor: BLUE, borderWidth: 2, pointRadius: 0, fill: false, cubicInterpolationMode: 'monotone'},
    {data: pts(dhrUpper), borderColor: 'rgba(0,0,0,0)', borderWidth: 0, pointRadius: 0, backgroundColor: LBLUE, fill: '+1', cubicInterpolationMode: 'monotone'},
    {data: pts(dhrLower), borderColor: 'rgba(0,0,0,0)', borderWidth: 0, pointRadius: 0, fill: false, cubicInterpolationMode: 'monotone'}
  ]},
  options: Object.assign({}, common, {
    layout: {autoPadding: false, padding: {top: 7, left: 0, right: 0, bottom: 0}},
    scales: {x: xAxis(true), y: yAxis(0.373, 1.912)}
  }),
  plugins: [botDecor]
});
</script>
</body></html>
